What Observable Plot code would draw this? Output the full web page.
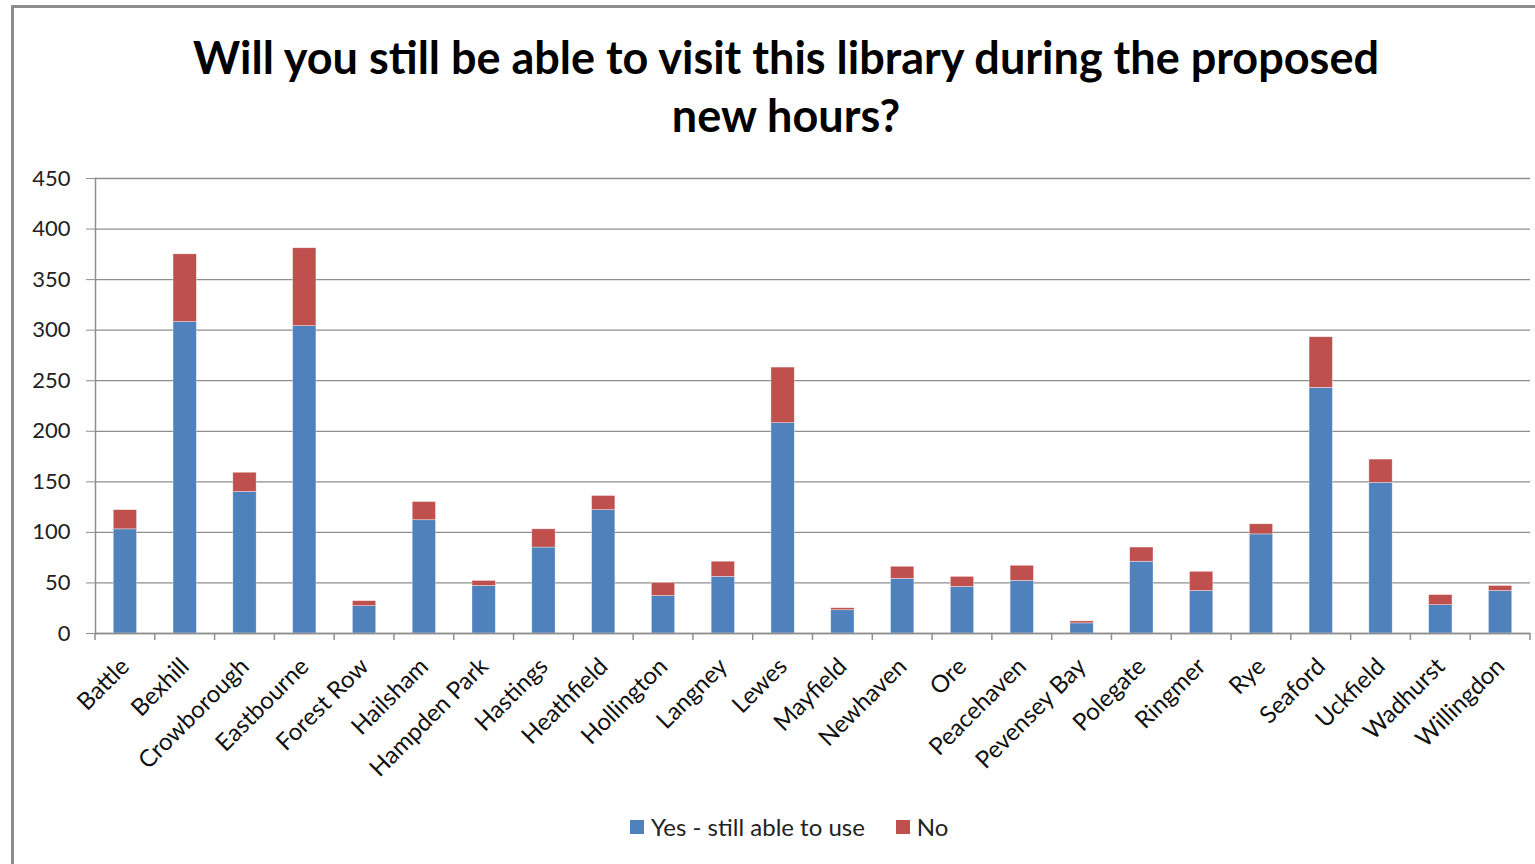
<!DOCTYPE html>
<html>
<head>
<meta charset="utf-8">
<script src="https://cdn.jsdelivr.net/npm/d3@7"></script>
<script src="https://cdn.jsdelivr.net/npm/@observablehq/plot@0.6"></script>
<style>
  html, body { margin: 0; padding: 0; background: #fff; width: 1535px; height: 864px; overflow: hidden; }
  body { font-family: Lato, "DejaVu Sans", sans-serif; position: relative; }
  #frame { position: absolute; left: 11px; top: 5px; width: 1600px; height: 900px; border-left: 3px solid #8c8c8c; border-top: 3px solid #8c8c8c; }
  #title { position: absolute; left: 0; top: 28px; width: 1572px; text-align: center; font-weight: 700; font-size: 45px; line-height: 58px; color: #000; }
  #chart { position: absolute; left: 0; top: 150px; }
  #legend { position: absolute; left: 630px; top: 812px; font-size: 24px; color: #222; display: flex; align-items: center; white-space: nowrap; }
  #legend .sw { display: inline-block; width: 14px; height: 14px; margin-right: 7px; }
</style>
</head>
<body>
<div id="frame"></div>
<div id="title">Will you still be able to visit this library during the proposed<br>new hours?</div>
<div id="chart"></div>
<div id="legend"></div>
<script>
const categories = ["Battle","Bexhill","Crowborough","Eastbourne","Forest Row","Hailsham","Hampden Park","Hastings","Heathfield","Hollington","Langney","Lewes","Mayfield","Newhaven","Ore","Peacehaven","Pevensey Bay","Polegate","Ringmer","Rye","Seaford","Uckfield","Wadhurst","Willingdon"];
const yesValues = [103,308,140,304,27,112,47,85,122,37,56,208,23,54,46,52,10,71,42,98,243,149,28,42];
const noValues  = [19,67,19,77,5,18,5,18,14,13,15,55,2,12,10,15,2,14,19,10,50,23,10,5];
const seriesNames = ["Yes - still able to use","No"];
const seriesColors = ["#4F81BD","#C0504D"];
const yTicks = [0,50,100,150,200,250,300,350,400,450];

const data = categories.flatMap((c, i) => [
  {category: c, series: seriesNames[0], value: yesValues[i]},
  {category: c, series: seriesNames[1], value: noValues[i]}
]);

const gridColor = "#8e8e8e";
const plot = Plot.plot({
  width: 1535,
  height: 650,
  marginLeft: 95,
  marginRight: 5,
  marginTop: 28,
  marginBottom: 167,
  style: {fontFamily: "Lato, 'DejaVu Sans', sans-serif", fontSize: "22px", color: "#222", background: "transparent"},
  x: {domain: categories, paddingInner: 0.61, paddingOuter: 0.305, round: false, label: null},
  y: {domain: [0, 450], ticks: yTicks, label: null},
  color: {domain: seriesNames, range: seriesColors},
  marks: [
    Plot.gridY(yTicks, {stroke: gridColor, strokeOpacity: 1, strokeWidth: 1.3}),
    Plot.barY(data, {x: "category", y: "value", fill: "series", stroke: "#fff", strokeWidth: 0.6, strokeOpacity: 0.6}),
    Plot.frame({anchor: "left", stroke: gridColor, strokeWidth: 1.5}),
    Plot.ruleY([0], {stroke: gridColor, strokeWidth: 1.5}),
    Plot.axisY(yTicks, {tickSize: 9, tickPadding: 16, fontSize: 22, stroke: gridColor, fill: "#222", label: null}),
    Plot.axisX({tickSize: 0, tickRotate: -45, tickPadding: 14, dx: 0, dy: 15, fontSize: 24, fill: "#111", label: null})
  ]
});
document.getElementById("chart").appendChild(plot);

// category boundary tick marks (Excel style) using Plot's own scales
const xs = plot.scale("x");
const ys = plot.scale("y");
const y0 = ys.apply(0);
const half = (xs.step - xs.bandwidth) / 2;
const bounds = categories.map(c => xs.apply(c) - half);
bounds.push(xs.apply(categories[categories.length - 1]) + xs.bandwidth + half);
const svg = d3.select(plot);
svg.append("g").selectAll("line").data(bounds).join("line")
  .attr("x1", d => d).attr("x2", d => d)
  .attr("y1", y0).attr("y2", y0 + 7)
  .attr("stroke", gridColor).attr("stroke-width", 1.5);

// legend
const legend = d3.select("#legend");
seriesNames.forEach((s, i) => {
  const item = legend.append("span").style("display", "inline-flex").style("align-items", "center").style("margin-right", i === 0 ? "31px" : "0");
  item.append("span").attr("class", "sw").style("background", seriesColors[i]);
  item.append("span").text(s);
});
</script>
</body>
</html>
